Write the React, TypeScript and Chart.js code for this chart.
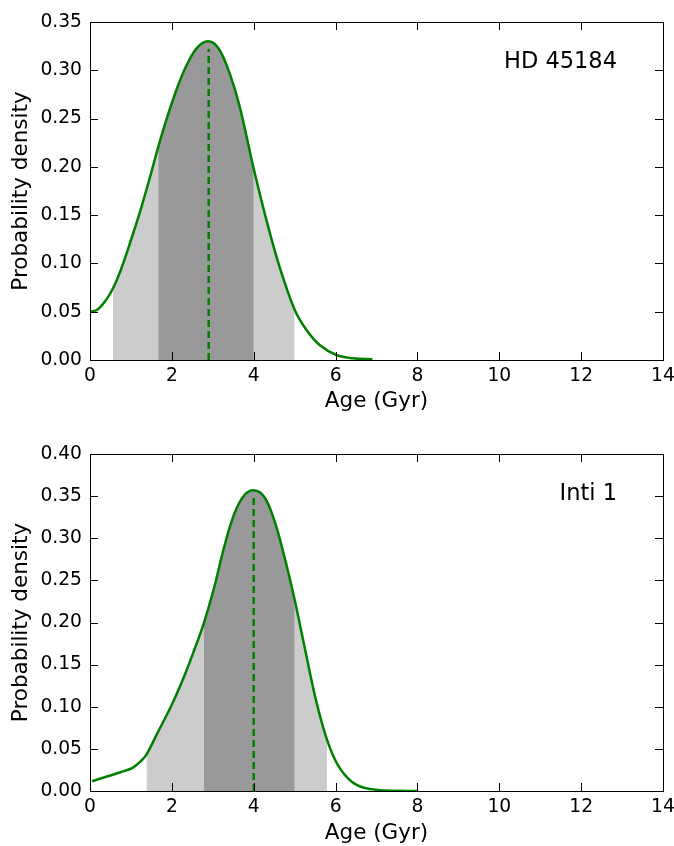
import React, { useEffect, useRef } from "react";
import { Chart, registerables } from "chart.js";

Chart.register(...registerables);

// ---- Data ----
const xTickValues = [0, 2, 4, 6, 8, 10, 12, 14];

const topAge = [0, 0.18, 0.39, 0.56, 0.75, 1.0, 1.24, 1.49, 1.67, 1.89, 2.14, 2.38, 2.63, 2.9, 3.15, 3.41, 3.66, 4.0, 4.31, 4.63, 5.0, 5.29, 5.61, 6.02, 6.43, 6.9];
const topDensity = [0.05, 0.052, 0.062, 0.074, 0.093, 0.124, 0.156, 0.193, 0.221, 0.252, 0.283, 0.307, 0.324, 0.33, 0.322, 0.297, 0.262, 0.198, 0.145, 0.0966, 0.052, 0.031, 0.0155, 0.0052, 0.0017, 0.0007];
const topOuterInterval = [0.56, 5.0];
const topInnerInterval = [1.67, 4.0];
const topMedian = [2.9, 0.322];
const topLabel = "HD 45184";
const topYMax = 0.35;

const botAge = [0.05, 0.43, 0.75, 1.04, 1.24, 1.38, 1.65, 1.98, 2.3, 2.55, 2.78, 3.04, 3.28, 3.53, 3.77, 4.0, 4.26, 4.5, 4.75, 5.0, 5.24, 5.52, 5.79, 6.05, 6.38, 6.7, 7.11, 7.5, 8.0];
const botDensity = [0.0116, 0.0175, 0.0223, 0.0275, 0.0353, 0.0432, 0.069, 0.1005, 0.136, 0.1677, 0.199, 0.2427, 0.29, 0.3296, 0.351, 0.357, 0.349, 0.3217, 0.278, 0.227, 0.1716, 0.108, 0.061, 0.0314, 0.0116, 0.0038, 0.001, 0.0003, 0.0];
const botOuterInterval = [1.38, 5.79];
const botInnerInterval = [2.78, 5.0];
const botMedian = [4.0, 0.352];
const botLabel = "Inti 1";
const botYMax = 0.4;

const FONT = "'DejaVu Sans', sans-serif";
const GREEN = "#008000";
const TENSION = 0.35;

type PanelProps = {
  ages: number[];
  dens: number[];
  outer: number[];
  inner: number[];
  median: number[];
  label: string;
  yMax: number;
  height: number;
  padTop: number;
  xAxisHeight: number;
  titleBottomPad: number;
};

function Panel(p: PanelProps) {
  const ref = useRef<HTMLCanvasElement | null>(null);
  useEffect(() => {
    const canvas = ref.current;
    if (!canvas) return;
    const pts = p.ages.map((x, i) => ({ x, y: p.dens[i] }));
    const sub = (iv: number[]) => pts.filter((q) => q.x >= iv[0] - 1e-9 && q.x <= iv[1] + 1e-9);

    const framePlugin = {
      id: "frame",
      afterDatasetsDraw(chart: any) {
        const { ctx, chartArea: a, scales } = chart;
        ctx.save();
        ctx.strokeStyle = "#000";
        ctx.lineWidth = 1;
        const tl = 8;
        ctx.beginPath();
        scales.x.ticks.forEach((t: any) => {
          const px = Math.round(scales.x.getPixelForValue(t.value)) + 0.5;
          ctx.moveTo(px, a.bottom);
          ctx.lineTo(px, a.bottom - tl);
          ctx.moveTo(px, a.top);
          ctx.lineTo(px, a.top + tl);
        });
        scales.y.ticks.forEach((t: any) => {
          const py = Math.round(scales.y.getPixelForValue(t.value)) + 0.5;
          ctx.moveTo(a.left, py);
          ctx.lineTo(a.left + tl, py);
          ctx.moveTo(a.right, py);
          ctx.lineTo(a.right - tl, py);
        });
        ctx.stroke();
        ctx.strokeRect(Math.round(a.left) + 0.5, Math.round(a.top) + 0.5, Math.round(a.right - a.left), Math.round(a.bottom - a.top));
        ctx.fillStyle = "#000";
        ctx.font = `22.5px ${FONT}`;
        ctx.textAlign = "right";
        ctx.textBaseline = "alphabetic";
        ctx.fillText(p.label, a.right - 46, a.top + 46);
        ctx.restore();
      },
    };

    const chart = new Chart(canvas, {
      type: "line",
      data: {
        datasets: [
          {
            data: pts,
            borderColor: GREEN,
            borderWidth: 2.5,
            pointRadius: 0,
            fill: false,
            tension: TENSION,
          },
          {
            data: [
              { x: p.median[0], y: 0 },
              { x: p.median[0], y: p.median[1] },
            ],
            borderColor: GREEN,
            borderWidth: 2.5,
            borderDash: [7, 4],
            pointRadius: 0,
            fill: false,
          },
          {
            data: sub(p.inner),
            borderWidth: 0,
            borderColor: "rgba(0,0,0,0)",
            backgroundColor: "#999999",
            pointRadius: 0,
            fill: "origin",
            tension: TENSION,
          },
          {
            data: sub(p.outer),
            borderWidth: 0,
            borderColor: "rgba(0,0,0,0)",
            backgroundColor: "#cccccc",
            pointRadius: 0,
            fill: "origin",
            tension: TENSION,
          },
        ],
      } as any,
      options: {
        animation: false,
        responsive: false,
        layout: { padding: { top: p.padTop, right: 11, left: 0, bottom: 0 } },
        plugins: { legend: { display: false }, tooltip: { enabled: false } },
        scales: {
          x: {
            type: "linear",
            min: 0,
            max: 14,
            afterBuildTicks: (s: any) => {
              s.ticks = xTickValues.map((v) => ({ value: v }));
            },
            afterFit: (s: any) => {
              s.height = p.xAxisHeight;
              s.paddingLeft = 0;
              s.paddingRight = 0;
            },
            ticks: {
              color: "#000",
              font: { family: FONT, size: 18.7 },
              padding: 5,
              maxRotation: 0,
              autoSkip: false,
              callback: (v: any) => String(v),
            },
            grid: { drawOnChartArea: false, drawTicks: false },
            border: { display: false },
            title: {
              display: true,
              text: "Age (Gyr)",
              color: "#000",
              font: { family: FONT, size: 21.5 },
              padding: { top: 0, bottom: p.titleBottomPad },
            },
          },
          y: {
            type: "linear",
            min: 0,
            max: p.yMax,
            afterFit: (s: any) => {
              s.width = 90;
            },
            ticks: {
              stepSize: 0.05,
              color: "#000",
              font: { family: FONT, size: 18.7 },
              padding: 8,
              callback: (v: any) => Number(v).toFixed(2),
            },
            grid: { drawOnChartArea: false, drawTicks: false },
            border: { display: false },
            title: {
              display: true,
              text: "Probability density",
              color: "#000",
              font: { family: FONT, size: 21.5 },
              padding: { top: 9, bottom: 0 },
            },
          },
        },
      } as any,
      plugins: [framePlugin],
    });
    return () => chart.destroy();
  }, []);
  return <canvas ref={ref} width={674} height={p.height} style={{ display: "block" }} />;
}

export default function App() {
  return (
    <div style={{ position: "absolute", left: 0, top: 0, width: 674, height: 846, background: "#fff" }}>
      <Panel
        ages={topAge}
        dens={topDensity}
        outer={topOuterInterval}
        inner={topInnerInterval}
        median={topMedian}
        label={topLabel}
        yMax={topYMax}
        height={423}
        padTop={22}
        xAxisHeight={63}
        titleBottomPad={8.6}
      />
      <Panel
        ages={botAge}
        dens={botDensity}
        outer={botOuterInterval}
        inner={botInnerInterval}
        median={botMedian}
        label={botLabel}
        yMax={botYMax}
        height={423}
        padTop={31}
        xAxisHeight={55}
        titleBottomPad={0}
      />
    </div>
  );
}
